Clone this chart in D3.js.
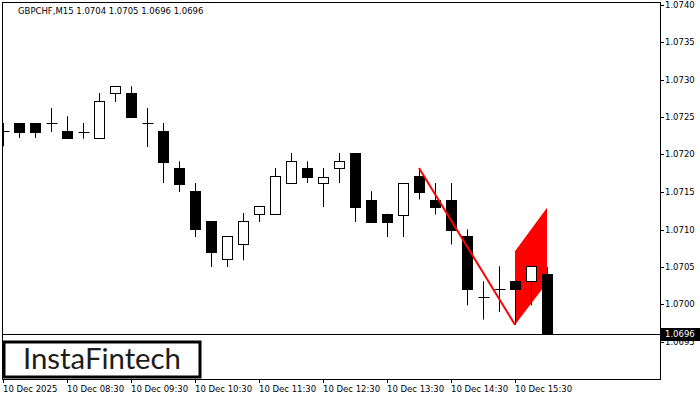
<!DOCTYPE html>
<html lang="en">
<head>
    <meta charset="UTF-8">
    <script src="https://d3js.org/d3.v7.min.js"></script>
    <style>
        body { margin: 0; background: #fff; }
        text { font-family: "DejaVu Sans", Tahoma, sans-serif; font-size: 8.5px; fill: #000; }
        .logo { font-family: Lato, "Open Sans", sans-serif; font-size: 28px; fill: #1c1c1c; }
    </style>
    <title>GBPCHF M15</title>
</head>
<body>
    <script>
        // Candle data (GBPCHF, M15), one entry per bar
        const opens  = [1.07231, 1.07242, 1.07242, 1.07242, 1.07231, 1.07230, 1.07222, 1.07281, 1.07282, 1.07242,
                        1.07231, 1.07182, 1.07151, 1.07111, 1.07060, 1.07080, 1.07120, 1.07120, 1.07162, 1.07182,
                        1.07162, 1.07182, 1.07202, 1.07140, 1.07121, 1.07120, 1.07171, 1.07140, 1.07140, 1.07091,
                        1.07010, 1.07021, 1.07031, 1.07031, 1.07040];
        const highs  = [1.07242, 1.07242, 1.07242, 1.07262, 1.07251, 1.07242, 1.07282, 1.07291, 1.07291, 1.07262,
                        1.07242, 1.07191, 1.07162, 1.07111, 1.07091, 1.07122, 1.07131, 1.07182, 1.07202, 1.07191,
                        1.07182, 1.07202, 1.07202, 1.07151, 1.07121, 1.07162, 1.07182, 1.07162, 1.07162, 1.07100,
                        1.07031, 1.07051, 1.07031, 1.07051, 1.07050];
        const lows   = [1.07211, 1.07222, 1.07222, 1.07230, 1.07221, 1.07221, 1.07222, 1.07270, 1.07250, 1.07210,
                        1.07162, 1.07150, 1.07090, 1.07050, 1.07050, 1.07059, 1.07110, 1.07120, 1.07162, 1.07162,
                        1.07130, 1.07162, 1.07110, 1.07110, 1.07090, 1.07090, 1.07140, 1.07120, 1.07080, 1.06999,
                        1.06980, 1.06990, 1.06973, 1.06999, 1.06960];
        const closes = [1.07231, 1.07230, 1.07230, 1.07242, 1.07221, 1.07230, 1.07271, 1.07291, 1.07250, 1.07242,
                        1.07190, 1.07161, 1.07100, 1.07070, 1.07091, 1.07111, 1.07131, 1.07171, 1.07191, 1.07170,
                        1.07170, 1.07191, 1.07130, 1.07110, 1.07110, 1.07162, 1.07150, 1.07130, 1.07100, 1.07020,
                        1.07010, 1.07021, 1.07020, 1.07051, 1.06960];

        // time axis labels: bar index -> text
        const timeTickIdx = [0, 4, 8, 12, 16, 20, 24, 28, 32];
        const timeTickLabels = ["10 Dec 2025", "10 Dec 08:30", "10 Dec 09:30", "10 Dec 10:30", "10 Dec 11:30",
                                "10 Dec 12:30", "10 Dec 13:30", "10 Dec 14:30", "10 Dec 15:30"];
        const priceTicks = [1.0695, 1.0700, 1.0705, 1.0710, 1.0715, 1.0720, 1.0725, 1.0730, 1.0735, 1.0740];

        // bearish flag pattern: pole and flag body (bar index, price)
        const poleLine = [[26, 1.07182], [32, 1.06973]];
        const flagPoly = [[32, 1.06973], [32, 1.07071], [34, 1.07129], [34, 1.07029]];
        const lastPrice = 1.0696;
        const title = "GBPCHF,M15  1.0704 1.0705 1.0696 1.0696";

        const width = 700, height = 400;
        const plot = { left: 2, right: 660, top: 2, bottom: 379 };

        const data = opens.map((o, i) => ({ i, o, h: highs[i], l: lows[i], c: closes[i] }));

        const x = d3.scaleLinear().domain([0, 41]).range([3, 659]);
        const y = d3.scaleLinear().domain([1.0690, 1.0740]).range([379.5, 4.5]);
        const px = v => Math.round(x(v)) + 0.5;

        const svg = d3.select("body").append("svg")
            .attr("width", width)
            .attr("height", height);

        svg.append("clipPath").attr("id", "clip")
            .append("rect")
            .attr("x", plot.left + 1).attr("y", plot.top + 1)
            .attr("width", plot.right - plot.left - 1)
            .attr("height", plot.bottom - plot.top - 1);

        const g = svg.append("g").attr("clip-path", "url(#clip)");

        // flag body
        g.append("path")
            .attr("d", d3.line().x(d => x(d[0])).y(d => y(d[1]))(flagPoly) + "Z")
            .attr("fill", "#ff0000");

        // candles
        const cell = g.selectAll("g.candle")
            .data(data)
            .enter().append("g")
            .attr("class", "candle");

        cell.append("line")
            .attr("x1", d => px(d.i)).attr("x2", d => px(d.i))
            .attr("y1", d => y(d.h)).attr("y2", d => y(d.l))
            .attr("stroke", "#000").attr("stroke-width", 1);

        cell.filter(d => Math.abs(d.o - d.c) > 0.00002)
            .append("rect")
            .attr("x", d => px(d.i) - 5)
            .attr("y", d => Math.round(y(Math.max(d.o, d.c))) + 0.5)
            .attr("width", 10)
            .attr("height", d => Math.max(1, Math.round(Math.abs(y(d.o) - y(d.c)))))
            .attr("fill", d => d.c > d.o ? "#fff" : "#000")
            .attr("stroke", "#000").attr("stroke-width", 1);

        cell.filter(d => Math.abs(d.o - d.c) <= 0.00002)
            .append("line")
            .attr("x1", d => px(d.i) - 5).attr("x2", d => px(d.i) + 6)
            .attr("y1", d => Math.round(y(d.o)) + 0.5).attr("y2", d => Math.round(y(d.o)) + 0.5)
            .attr("stroke", "#000").attr("stroke-width", 1);

        // pole line
        g.append("path")
            .attr("d", d3.line().x(d => x(d[0])).y(d => y(d[1]))(poleLine))
            .attr("fill", "none")
            .attr("stroke", "#ff0000").attr("stroke-width", 2);

        // last price line
        svg.append("line")
            .attr("x1", plot.left).attr("x2", plot.right)
            .attr("y1", Math.round(y(lastPrice)) + 0.5).attr("y2", Math.round(y(lastPrice)) + 0.5)
            .attr("stroke", "#000").attr("stroke-width", 1);

        // frame
        svg.append("rect")
            .attr("x", plot.left + 0.5).attr("y", plot.top + 0.5)
            .attr("width", plot.right - plot.left).attr("height", plot.bottom - plot.top)
            .attr("fill", "none").attr("stroke", "#000").attr("stroke-width", 1);

        // right price axis
        const yAxis = svg.append("g");
        priceTicks.forEach(p => {
            const yy = Math.round(y(p)) + 0.5;
            yAxis.append("line")
                .attr("x1", plot.right).attr("x2", plot.right + 4)
                .attr("y1", yy).attr("y2", yy)
                .attr("stroke", "#000");
            yAxis.append("text")
                .attr("x", plot.right + 5).attr("y", yy)
                .attr("dy", "0.35em")
                .text(p.toFixed(4));
        });

        // last price label
        const ly = Math.round(y(lastPrice));
        svg.append("rect")
            .attr("x", plot.right + 1).attr("y", ly - 6)
            .attr("width", 39).attr("height", 13)
            .attr("fill", "#000");
        svg.append("text")
            .attr("x", plot.right + 5).attr("y", ly + 0.5)
            .attr("dy", "0.35em")
            .style("fill", "#fff")
            .text(lastPrice.toFixed(4));

        // time axis
        timeTickIdx.forEach((idx, k) => {
            const xx = px(idx);
            svg.append("line")
                .attr("x1", xx).attr("x2", xx)
                .attr("y1", plot.bottom).attr("y2", plot.bottom + 4)
                .attr("stroke", "#000");
            svg.append("text")
                .attr("x", xx - 0.5).attr("y", 392)
                .text(timeTickLabels[k]);
        });

        // title
        svg.append("text")
            .attr("x", 18).attr("y", 14)
            .text(title);

        // logo
        svg.append("rect")
            .attr("x", 4).attr("y", 342)
            .attr("width", 196).attr("height", 35)
            .attr("fill", "#fff")
            .attr("stroke", "#000").attr("stroke-width", 3);
        svg.append("text")
            .attr("class", "logo")
            .attr("x", 23).attr("y", 369)
            .attr("textLength", 158)
            .attr("lengthAdjust", "spacingAndGlyphs")
            .text("InstaFintech");
    </script>
</body>
</html>
